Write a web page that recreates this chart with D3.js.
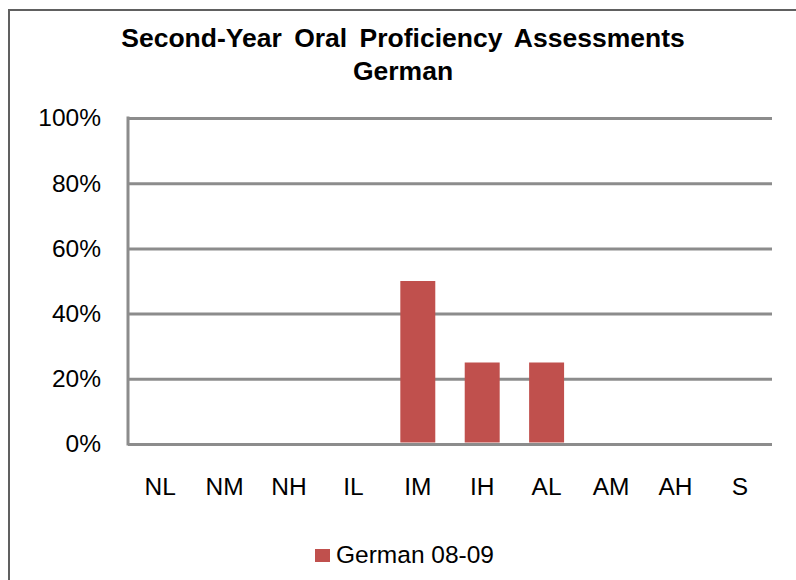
<!DOCTYPE html>
<html>
<head>
<meta charset="utf-8">
<script src="https://cdn.jsdelivr.net/npm/d3@7"></script>
<style>
  html, body { margin: 0; padding: 0; background: #fff; }
  svg { display: block; font-family: "Liberation Sans", Arial, Helvetica, sans-serif; }
</style>
</head>
<body>
<svg id="chart" width="796" height="580"></svg>
<script>
const categories = ["NL", "NM", "NH", "IL", "IM", "IH", "AL", "AM", "AH", "S"];
const values = [0, 0, 0, 0, 0.50, 0.25, 0.25, 0, 0, 0];
const yTicks = [0, 0.2, 0.4, 0.6, 0.8, 1.0];
const titleLines = ["Second-Year Oral Proficiency Assessments", "German"];
const seriesName = "German 08-09";

const svg = d3.select("#chart");
const W = 796, H = 580;
const plot = { left: 128, right: 772, top: 118, bottom: 444 };
const barColor = "#c0504d";
const gridColor = "#8c8c8c";

// outer frame
svg.append("rect")
  .attr("x", 9).attr("y", 10)
  .attr("width", W + 20).attr("height", H + 20)
  .attr("fill", "none").attr("stroke", "#606060").attr("stroke-width", 2);

// title
const title = svg.append("text")
  .attr("text-anchor", "middle")
  .attr("font-weight", "bold")
  .attr("font-size", 26.5)
  .attr("fill", "#000");
title.selectAll("tspan").data(titleLines).join("tspan")
  .attr("x", 403)
  .attr("y", (d, i) => 47 + i * 33)
  .attr("word-spacing", 5)
  .text(d => d);

const x = d3.scaleBand()
  .domain(categories)
  .range([plot.left, plot.right])
  .paddingInner(0.457)
  .paddingOuter(0.2285);

const y = d3.scaleLinear()
  .domain([0, 1])
  .range([plot.bottom, plot.top]);

// gridlines
const yAxis = d3.axisLeft(y)
  .tickValues(yTicks)
  .tickSize(-(plot.right - plot.left))
  .tickFormat(d3.format(".0%"))
  .tickPadding(27);

const gy = svg.append("g")
  .attr("transform", `translate(${plot.left},0)`)
  .call(yAxis);
gy.select(".domain").remove();
gy.selectAll(".tick line")
  .attr("stroke", gridColor).attr("stroke-width", 3);
gy.selectAll(".tick text")
  .attr("font-size", 24.5)
  .attr("fill", "#000")
  .attr("font-family", "Liberation Sans, Arial, sans-serif");

// left axis line
svg.append("line")
  .attr("x1", plot.left).attr("x2", plot.left)
  .attr("y1", y(1) - 1.5).attr("y2", y(0) + 1.5)
  .attr("stroke", gridColor).attr("stroke-width", 3);

// bars
svg.append("g").selectAll("rect")
  .data(categories.map((c, i) => ({ c, v: values[i] })))
  .join("rect")
  .attr("x", d => x(d.c))
  .attr("y", d => y(d.v))
  .attr("width", x.bandwidth())
  .attr("height", d => y(0) - y(d.v) - 1.5)
  .attr("fill", barColor);

// x axis labels
const xAxis = d3.axisBottom(x).tickSize(0).tickPadding(0);
const gx = svg.append("g")
  .attr("transform", `translate(0,${plot.bottom})`)
  .call(xAxis);
gx.select(".domain").remove();
gx.selectAll(".tick text")
  .attr("y", 51)
  .attr("dy", null)
  .attr("font-size", 24.5)
  .attr("fill", "#000")
  .attr("font-family", "Liberation Sans, Arial, sans-serif");

// legend
const lg = svg.append("g");
lg.append("rect")
  .attr("x", 315).attr("y", 549)
  .attr("width", 15).attr("height", 13)
  .attr("fill", barColor);
lg.append("text")
  .attr("x", 336).attr("y", 563)
  .attr("font-size", 24.5)
  .attr("fill", "#000")
  .text(seriesName);
</script>
</body>
</html>
